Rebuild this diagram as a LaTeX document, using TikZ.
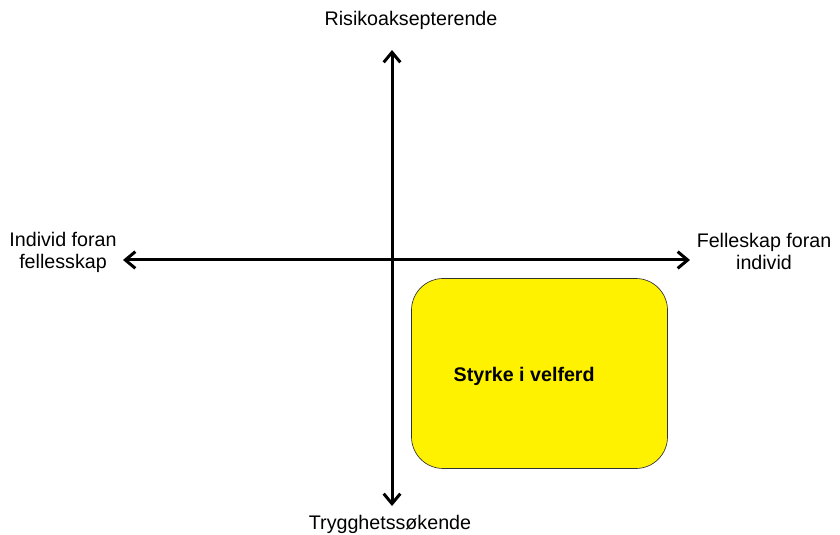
\documentclass[tikz,border=0pt]{standalone}
\usepackage{fontspec}
\setmainfont{Liberation Sans}
\usetikzlibrary{positioning,arrows.meta}

\begin{document}
\begin{tikzpicture}[
      x=0.6pt, y=-0.6pt,
      every node/.style={font=\fontsize{11.8}{13.2}\selectfont, align=center, inner sep=2pt},
      axis/.style={{Straight Barb[length=6pt,width=10pt]}-{Straight Barb[length=6pt,width=10pt]},
                   line width=1.8pt},
      field/.style={draw=black!80, thin, rounded corners=19pt, fill=yellow,
                    minimum width=153.6pt, minimum height=114pt},
  ]
    \useasboundingbox (0,0) rectangle (840,535);

    %% --- Axis ends ---
    \coordinate (top) at (392,50);
    \coordinate (bottom) at (392,506);
    \coordinate (left) at (123,260);
    \coordinate (right) at (690,260);

    %% --- Axes ---
    \draw[axis] (bottom) -- (top);
    \draw[axis] (left) -- (right);

    %% --- Quadrant box ---
    \node[field] (velferd) at (539.5,373.5) {};
    \node[font=\fontsize{11.8}{13.2}\selectfont\bfseries, anchor=west]
      (velferdtxt) at (450,376) {Styrke i velferd};

    %% --- Axis labels ---
    \node (risiko) at (411,20) {Risikoaksepterende};
    \node (trygghet) at (390,524) {Trygghetssøkende};
    \node (individ) at (63,252) {Individ foran\\fellesskap};
    \node (felleskap) at (764,251) {Felleskap foran\\individ};
  \end{tikzpicture}
\end{document}
